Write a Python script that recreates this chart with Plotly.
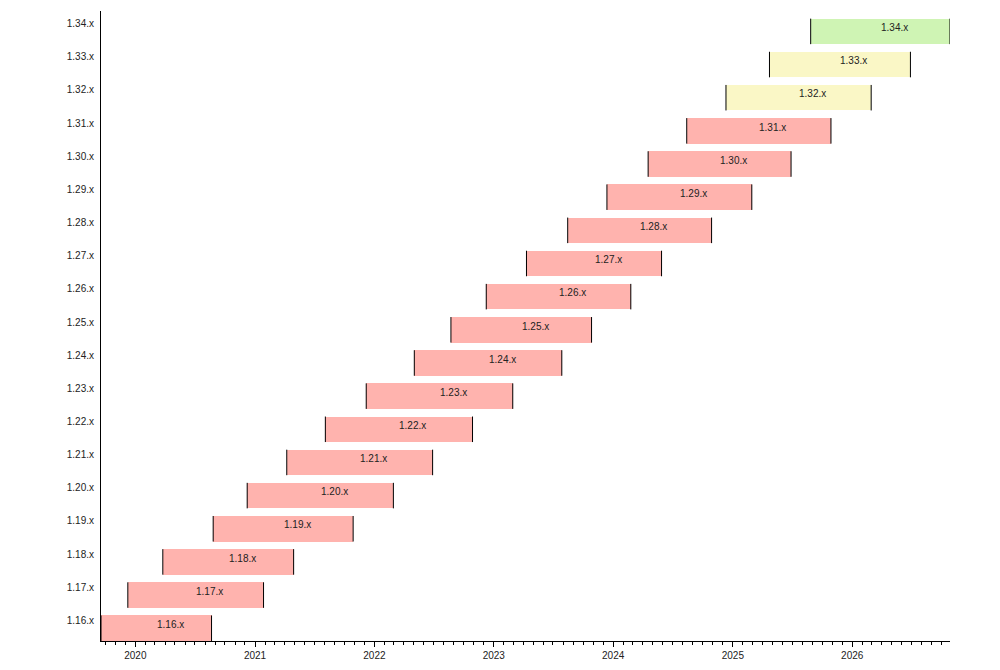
import pandas as pd
import plotly.graph_objects as go

# release cycles, oldest first
versions = ["1.16.x", "1.17.x", "1.18.x", "1.19.x", "1.20.x", "1.21.x", "1.22.x",
            "1.23.x", "1.24.x", "1.25.x", "1.26.x", "1.27.x", "1.28.x", "1.29.x",
            "1.30.x", "1.31.x", "1.32.x", "1.33.x", "1.34.x"]
release_dates = ["2019-09-18", "2019-12-09", "2020-03-25", "2020-08-26", "2020-12-08",
                 "2021-04-08", "2021-08-04", "2021-12-07", "2022-05-03", "2022-08-23",
                 "2022-12-09", "2023-04-11", "2023-08-15", "2023-12-13", "2024-04-17",
                 "2024-08-13", "2024-12-11", "2025-04-23", "2025-08-27"]
eol_dates = ["2020-08-21", "2021-01-27", "2021-04-29", "2021-10-28", "2022-02-28",
             "2022-06-28", "2022-10-28", "2023-02-28", "2023-07-28", "2023-10-27",
             "2024-02-24", "2024-05-28", "2024-10-28", "2025-02-28", "2025-06-28",
             "2025-10-28", "2026-02-28", "2026-06-28", "2026-10-27"]
status = ["eol"] * 16 + ["maintenance", "maintenance", "active"]

status_colors = {"eol": "#FFB3AE", "maintenance": "#FAF7C6", "active": "#CFF4B4"}

FONT = "Liberation Sans, Arial, Helvetica, sans-serif"
BAR_W = 0.77
BAR_OFF = -0.5

start = pd.to_datetime(release_dates)
end = pd.to_datetime(eol_dates)
idx = list(range(len(versions)))
dur_ms = [(e - s).total_seconds() * 1000 for s, e in zip(start, end)]

fig = go.Figure()
fig.add_trace(go.Bar(
    y=idx,
    x=dur_ms,
    base=release_dates,
    orientation="h",
    width=BAR_W,
    offset=BAR_OFF,
    marker=dict(color=[status_colors[s] for s in status], line=dict(width=0)),
    hoverinfo="skip",
    showlegend=False,
))

# black marks at both ends of every bar
edge_x, edge_y = [], []
for i, s, e in zip(idx, release_dates, eol_dates):
    lo, hi = i + BAR_OFF, i + BAR_OFF + BAR_W
    edge_x += [s, s, None, e, e, None]
    edge_y += [lo, hi, None, lo, hi, None]
fig.add_trace(go.Scatter(
    x=edge_x, y=edge_y, mode="lines",
    line=dict(color="black", width=1),
    hoverinfo="skip", showlegend=False,
))

# version labels inside bars
for i, v, s, e in zip(idx, versions, start, end):
    mid = s + (e - s) / 2
    fig.add_annotation(
        x=mid, y=i, text=v, showarrow=False, xshift=14,
        font=dict(family=FONT, size=10, color="#222"),
    )

# page body adds an 8px offset, so margins are trimmed to compensate
fig.update_layout(
    width=1000,
    height=670,
    margin=dict(l=93, r=58, t=3, b=37),
    plot_bgcolor="white",
    paper_bgcolor="white",
    font=dict(family=FONT, size=10, color="#222"),
    bargap=0,
    showlegend=False,
)
fig.update_xaxes(
    type="date",
    range=[release_dates[0], eol_dates[-1]],
    tick0="2020-01-01",
    dtick="M12",
    tickformat="%Y",
    ticks="outside",
    ticklen=5,
    tickcolor="black",
    minor=dict(dtick="M1", ticks="outside", ticklen=3, tickcolor="black", showgrid=False),
    showline=True,
    linecolor="black",
    linewidth=1,
    showgrid=False,
    zeroline=False,
)
fig.update_yaxes(
    range=[-0.5, len(versions) - 0.5],
    tickvals=idx,
    ticktext=versions,
    ticks="",
    ticklabelstandoff=4,
    ticklabelshift=-4,
    showline=True,
    linecolor="black",
    linewidth=1,
    showgrid=False,
    zeroline=False,
)

fig.write_html("out.html", config={"displayModeBar": False})
